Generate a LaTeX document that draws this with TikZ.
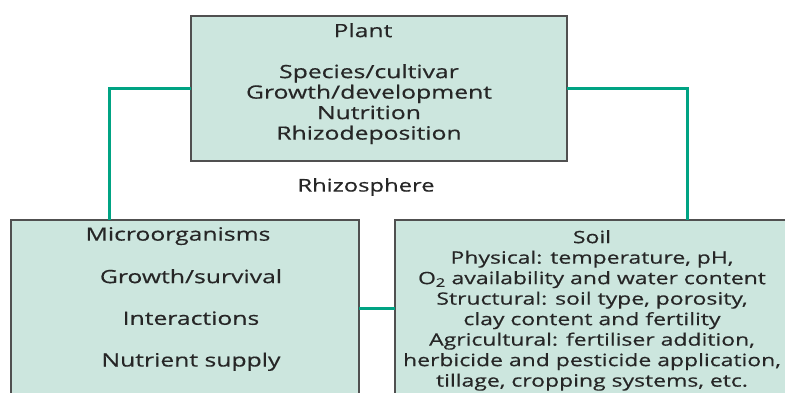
\documentclass[tikz,border=0pt]{standalone}
\usepackage{fontspec}
\setmainfont[FakeStretch=1.35,FakeBold=0.5]{Open Sans}
\definecolor{boxfill}{RGB}{204,230,222}
\definecolor{boxline}{RGB}{80,80,80}
\definecolor{conn}{RGB}{0,163,131}
\tikzset{
  panel/.style={draw=boxline, line width=1.4pt, fill=boxfill, anchor=north west, inner sep=0pt, outer sep=0pt},
  txt/.style={font=\fontsize{17}{20.5}\selectfont, align=center, inner sep=0pt, text=black!85},
  bigtxt/.style={txt, font=\fontsize{18.3}{20.5}\selectfont},
  link/.style={draw=conn, line width=3pt}
}
\begin{document}
\begin{tikzpicture}[x=1pt,y=-1pt]
\useasboundingbox (0,0) rectangle (785,392);
\clip (0,0) rectangle (785,392);
\node[panel, minimum width=376pt, minimum height=145pt] (plant) at (191,16) {};
\node[panel, minimum width=348pt, minimum height=176pt] (micro) at (11,220) {};
\node[panel, minimum width=394pt, minimum height=176pt] (soil) at (395,220) {};
\coordinate (ml) at (109,220);
\coordinate (sr) at (687,220);
\draw[link] (plant.west) -| (ml);
\draw[link] (plant.east) -| (sr);
\draw[link] (micro.east) -- (soil.west);
\node[bigtxt, anchor=north] (ptitle) at (363,23) {Plant};
\node[bigtxt, anchor=north] (ptext) at (369,64) {Species/cultivar\\Growth/development\\Nutrition\\Rhizodeposition};
\node[txt, font=\fontsize{17.6}{20.5}\selectfont] (rhizo) at (366,187) {Rhizosphere};
\node[bigtxt, anchor=north] (mtitle) at (178,227) {Microorganisms};
\node[bigtxt, anchor=north, font=\fontsize{18.3}{41.7}\selectfont] (mtext) at (191,269) {Growth/survival\\Interactions\\Nutrient supply};
\node[txt, anchor=north] (stext) at (592,230) {Soil\\Physical: temperature, pH,\\O\textsubscript{2} availability and water content\\Structural: soil type, porosity,\\clay content and fertility\\Agricultural: fertiliser addition,\\herbicide and pesticide application,\\tillage, cropping systems, etc.};
\end{tikzpicture}
\end{document}
